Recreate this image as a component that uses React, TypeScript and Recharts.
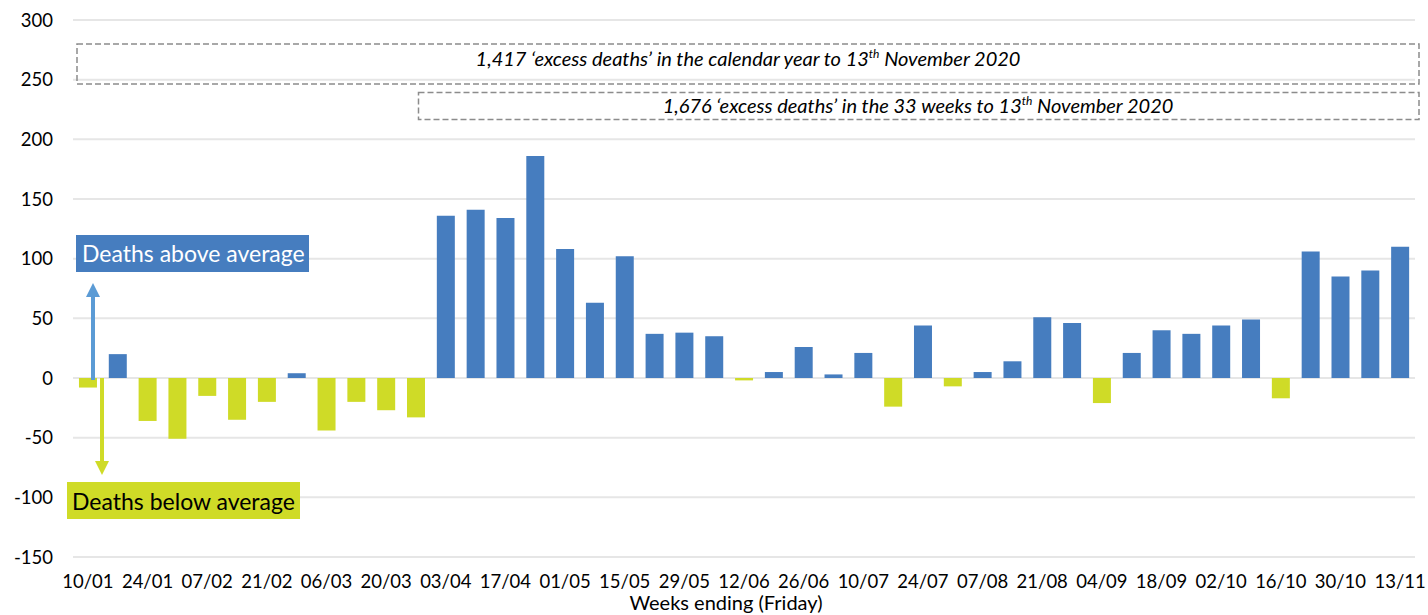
import React from "react";
import { BarChart, Bar, XAxis, YAxis, CartesianGrid, Cell } from "recharts";

const weeks = [
  "10/01", "17/01", "24/01", "31/01", "07/02", "14/02", "21/02", "28/02", "06/03", "13/03",
  "20/03", "27/03", "03/04", "10/04", "17/04", "24/04", "01/05", "08/05", "15/05", "22/05",
  "29/05", "05/06", "12/06", "19/06", "26/06", "03/07", "10/07", "17/07", "24/07", "31/07",
  "07/08", "14/08", "21/08", "28/08", "04/09", "11/09", "18/09", "25/09", "02/10", "09/10",
  "16/10", "23/10", "30/10", "06/11", "13/11",
];

const excessDeaths = [
  -8, 20, -36, -51, -15, -35, -20, 4, -44, -20,
  -27, -33, 136, 141, 134, 186, 108, 63, 102, 37,
  38, 35, -2, 5, 26, 3, 21, -24, 44, -7,
  5, 14, 51, 46, -21, 21, 40, 37, 44, 49,
  -17, 106, 85, 90, 110,
];

const yTicks = [-150, -100, -50, 0, 50, 100, 150, 200, 250, 300];

const BLUE = "#467dbf";
const YELLOW = "#cfdb27";
const FONT = "Lato, 'Open Sans', sans-serif";

const data = weeks.map((w, i) => ({ week: w, value: excessDeaths[i] }));

const W = 1428;
const H = 615;

export default function App() {
  return (
    <div style={{ position: "absolute", left: 0, top: 0, width: W, height: H, background: "#fff" }}>
      <BarChart
        width={W}
        height={H}
        data={data}
        margin={{ top: 20, right: 13, bottom: 28, left: 0 }}
        barCategoryGap="20%"
      >
        <CartesianGrid vertical={false} stroke="#e6e6e6" strokeWidth={2} />
        <XAxis
          dataKey="week"
          interval={1}
          height={30}
          tickLine={false}
          axisLine={false}
          tickSize={6}
          tickMargin={12}
          tick={{ fill: "#000", fontSize: 18.5, fontFamily: FONT }}
        />
        <YAxis
          width={73}
          domain={[-150, 300]}
          ticks={yTicks}
          tickLine={false}
          axisLine={false}
          tickMargin={14}
          tick={{ fill: "#000", fontSize: 18.5, fontFamily: FONT }}
        />
        <Bar dataKey="value" isAnimationActive={false}>
          {data.map((d, i) => (
            <Cell key={i} fill={d.value >= 0 ? BLUE : YELLOW} />
          ))}
        </Bar>
      </BarChart>
      <svg
        width={W}
        height={H}
        style={{ position: "absolute", left: 0, top: 0, pointerEvents: "none" }}
      >
        <g fontFamily={FONT}>
          <rect x={77} y={44} width={1342} height={40} fill="none" stroke="#8c8c8c" strokeWidth={1.5} strokeDasharray="6 3" />
          <text x={748} y={66} textAnchor="middle" fontSize={20} fontStyle="italic" fill="#000">
            1,417 ‘excess deaths’ in the calendar year to 13
            <tspan dy={-8} fontSize={12}>th</tspan>
            <tspan dy={8}> November 2020</tspan>
          </text>
          <rect x={418.5} y={92.5} width={1000.5} height={27} fill="none" stroke="#8c8c8c" strokeWidth={1.5} strokeDasharray="6 3" />
          <text x={918} y={113} textAnchor="middle" fontSize={20} fontStyle="italic" fill="#000">
            1,676 ‘excess deaths’ in the 33 weeks to 13
            <tspan dy={-8} fontSize={12}>th</tspan>
            <tspan dy={8}> November 2020</tspan>
          </text>

          <rect x={76} y={235} width={233} height={37} fill={BLUE} />
          <text x={82} y={262} fontSize={23} fill="#fff">Deaths above average</text>

          <rect x={67} y={482} width={233} height={37} fill={YELLOW} />
          <text x={72} y={510} fontSize={23} fill="#000">Deaths below average</text>

          <line x1={93} y1={380} x2={93} y2={296} stroke="#5b9bd5" strokeWidth={4} />
          <polygon points="86,297 100,297 93,283" fill="#5b9bd5" />

          <line x1={102} y1={378} x2={102} y2={462} stroke={YELLOW} strokeWidth={4} />
          <polygon points="95,461 109,461 102,475" fill={YELLOW} />

          <text x={726} y={610} textAnchor="middle" fontSize={20} fill="#000">Weeks ending (Friday)</text>
        </g>
      </svg>
    </div>
  );
}
